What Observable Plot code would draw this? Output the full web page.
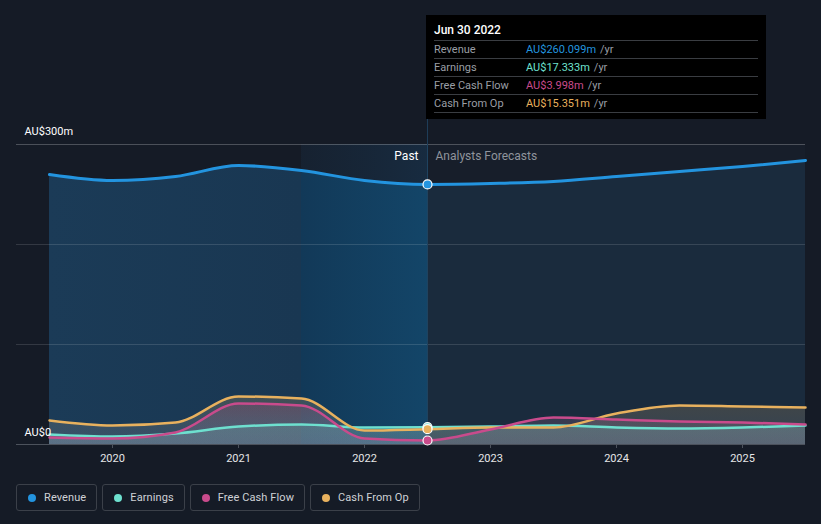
<!DOCTYPE html>
<html><head><meta charset="utf-8">
<script src="https://cdn.jsdelivr.net/npm/d3@7"></script>
<script src="https://cdn.jsdelivr.net/npm/@observablehq/plot@0.6"></script>
<style>
body{margin:0;background:#151b26;font-family:Roboto,"Noto Sans",sans-serif;}
#wrap{position:relative;width:821px;height:524px;overflow:hidden;background:#151b26}
#chart{position:absolute;left:0;top:0}
.tip{position:absolute;background:#000;box-sizing:border-box;padding:0 8px;font-size:11px}
.tip .date{color:#fff;font-size:12px;font-weight:500;height:25px;line-height:31px;border-bottom:1px solid #3a3d42}
.tip .row{height:17px;line-height:18px;border-bottom:1px solid #3a3d42;display:flex;color:#9a9ea5}
.tip .row .lab{width:92px}
.tip .row .unit{color:#9a9ea5;margin-left:4px}
.legend{position:absolute;left:16px;top:484px;display:flex;gap:5px}
.legend .item{border:1px solid #3b4049;border-radius:3px;height:27px;box-sizing:border-box;padding:0 10px 0 11px;display:flex;align-items:center;color:#cfd2d6;font-size:11px;letter-spacing:0.1px}
.legend .dot{width:8px;height:8px;border-radius:50%;margin-right:8px}
.vline{position:absolute;width:1px;background:#1e3d58}
</style></head><body><div id="wrap"><div id="chart"></div></div>
<script>
// ---- data ----
const years    = [2019.5, 2020, 2020.5, 2021, 2021.5, 2022, 2022.5, 2023, 2023.5, 2024, 2024.5, 2025, 2025.5];
const revenue  = [270, 264, 268, 279, 274, 264, 260.099, 261, 263, 268, 273, 278, 284];
const earnings = [10, 8, 11, 18, 20, 17, 17.333, 18, 19, 17, 16, 17, 19];
const fcf      = [7, 6, 12, 41, 39, 6, 3.998, 15, 27, 25, 23, 22, 20];
const cfo      = [24, 19, 22, 48, 46, 14, 15.351, 17, 17, 31, 39, 38, 37];
const tickYears = [2020, 2021, 2022, 2023, 2024, 2025];
const yTicks = [0, 100, 200, 300];
const yLabels = ["AU$0", "AU$300m"];
const xDomain = [2019.238, 2025.5];
const nowYear = 2022.5;
const bandStart = 2021.5;
const seriesNames = ["Revenue", "Earnings", "Free Cash Flow", "Cash From Op"];
const seriesColors = ["#2394df", "#6ee0cf", "#c94b8c", "#e8b15e"];
const tipDate = "Jun 30 2022";
const tipValues = ["AU$260.099m", "AU$17.333m", "AU$3.998m", "AU$15.351m"];

const seriesValues = [revenue, earnings, fcf, cfo];
const rows = years.map((x, i) => ({x, revenue: revenue[i], earnings: earnings[i], fcf: fcf[i], cfo: cfo[i]}));
const past = rows.filter(d => d.x <= nowYear);
const future = rows.filter(d => d.x >= nowYear);
const curve = "monotone-x";

const defs = () => {
  const d = d3.create("svg:defs");
  const g = d.append("linearGradient").attr("id", "revPast").attr("x1", 0).attr("x2", 1).attr("y1", 0).attr("y2", 0);
  g.append("stop").attr("offset", 0).attr("stop-color", "#1b3b57");
  g.append("stop").attr("offset", 0.666).attr("stop-color", "#193752");
  g.append("stop").attr("offset", 0.667).attr("stop-color", "#123958");
  g.append("stop").attr("offset", 1).attr("stop-color", "#134568");
  const b = d.append("linearGradient").attr("id", "band").attr("x1", 0).attr("x2", 1).attr("y1", 0).attr("y2", 0);
  b.append("stop").attr("offset", 0).attr("stop-color", "#1a3550").attr("stop-opacity", 0.25);
  b.append("stop").attr("offset", 1).attr("stop-color", "#1a3f60").attr("stop-opacity", 0.45);
  const names = ["earnings", "fcf", "cfo"];
  names.forEach((n, i) => {
    const lg = d.append("linearGradient").attr("id", "g_" + n).attr("x1", 0).attr("x2", 0).attr("y1", 0).attr("y2", 1);
    lg.append("stop").attr("offset", 0).attr("stop-color", seriesColors[i + 1]).attr("stop-opacity", 0.2);
    lg.append("stop").attr("offset", 1).attr("stop-color", "#c8ccd4").attr("stop-opacity", 0.14);
  });
  return d.node();
};

const chart = Plot.plot({
  width: 821, height: 470,
  marginLeft: 16, marginRight: 16, marginTop: 144, marginBottom: 26,
  style: {background: "transparent", color: "#fff", fontFamily: "Roboto, sans-serif", fontSize: "11px", overflow: "visible"},
  x: {domain: xDomain},
  y: {domain: [0, 300], axis: null},
  marks: [
    defs,
    Plot.rect([{a: nowYear, b: xDomain[1]}], {x1: "a", x2: "b", y1: 0, y2: 300, fill: "#171e2a"}),
    Plot.rect([{a: bandStart, b: nowYear}], {x1: "a", x2: "b", y1: 0, y2: 300, fill: "url(#band)"}),
    Plot.areaY(past, {x: "x", y: "revenue", curve, fill: "url(#revPast)"}),
    Plot.areaY(future, {x: "x", y: "revenue", curve, fill: "#1a2b3d"}),
    Plot.ruleY(yTicks.slice(1), {stroke: "#ffffff", strokeOpacity: 0.13}),
    Plot.ruleY(yTicks.slice(3), {stroke: "#ffffff", strokeOpacity: 0.12}),
    Plot.areaY(rows, {x: "x", y: "cfo", curve, fill: "url(#g_cfo)"}),
    Plot.areaY(rows, {x: "x", y: "fcf", curve, fill: "url(#g_fcf)"}),
    Plot.areaY(rows, {x: "x", y: "earnings", curve, fill: "url(#g_earnings)"}),
    Plot.ruleX([nowYear], {stroke: "#1f4360", strokeWidth: 1}),
    Plot.ruleY([0], {stroke: "#4c525c"}),
    Plot.lineY(rows, {x: "x", y: "earnings", curve, stroke: seriesColors[1], strokeWidth: 2.5}),
    Plot.lineY(rows, {x: "x", y: "cfo", curve, stroke: seriesColors[3], strokeWidth: 2.5}),
    Plot.lineY(rows, {x: "x", y: "fcf", curve, stroke: seriesColors[2], strokeWidth: 2.5}),
    Plot.lineY(rows, {x: "x", y: "revenue", curve, stroke: seriesColors[0], strokeWidth: 3}),
    Plot.dot(seriesValues.map((v, i) => ({x: nowYear, y: v[years.indexOf(nowYear)], c: seriesColors[i]})),
      {x: "x", y: "y", r: 4.5, fill: "c", stroke: "#fff", strokeWidth: 1.2}),
    Plot.text([yLabels[1]], {x: xDomain[0], y: yTicks[3], text: d => d, textAnchor: "start", dx: 8, dy: -13, fill: "#fff", fontSize: 11}),
    Plot.text([yLabels[0]], {x: xDomain[0], y: yTicks[0], text: d => d, textAnchor: "start", dx: 8, dy: -12, fill: "#fff", fontSize: 11}),
    Plot.text(["Past"], {x: nowYear, y: yTicks[3], text: d => d, textAnchor: "end", dx: -9, dy: 12, fill: "#fff", fontSize: 12}),
    Plot.text(["Analysts Forecasts"], {x: nowYear, y: yTicks[3], text: d => d, textAnchor: "start", dx: 8, dy: 12, fill: "#8f949c", fontSize: 12}),
    Plot.axisX(tickYears, {tickFormat: d => String(d), tickSize: 4, tickPadding: 6, stroke: "#4c525c", fill: "#e6e6e6", fontSize: 11})
  ]
});
document.getElementById("chart").appendChild(chart);

// overlays positioned through the library's scales
const xs = chart.scale("x");
const xNow = xs.apply(nowYear);
const wrap = document.getElementById("wrap");
const vl = document.createElement("div");
vl.className = "vline";
vl.style.left = (xNow - 0.5) + "px"; vl.style.top = "15px"; vl.style.height = "130px";
wrap.appendChild(vl);

const tip = document.createElement("div");
tip.className = "tip";
tip.style.left = (xNow - 1) + "px"; tip.style.top = "15px"; tip.style.width = "340px"; tip.style.height = "104px";
let html = `<div class="date">${tipDate}</div>`;
seriesNames.forEach((n, i) => {
  html += `<div class="row"><span class="lab">${n}</span><span style="color:${seriesColors[i]}">${tipValues[i]}</span><span class="unit">/yr</span></div>`;
});
tip.innerHTML = html;
wrap.appendChild(tip);

const leg = document.createElement("div");
leg.className = "legend";
leg.innerHTML = seriesNames.map((n, i) => `<div class="item"><span class="dot" style="background:${seriesColors[i]}"></span>${n}</div>`).join("");
wrap.appendChild(leg);
</script>
</body></html>
